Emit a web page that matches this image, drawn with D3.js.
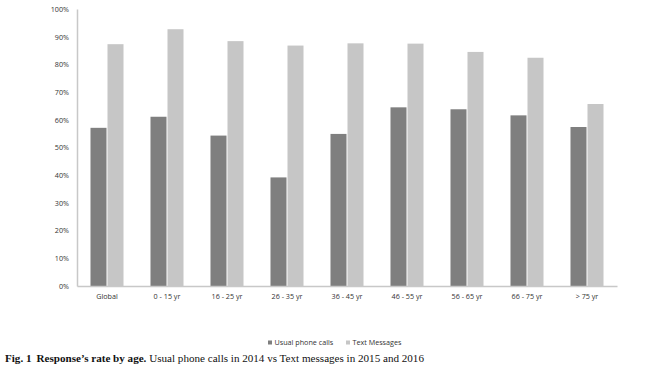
<!DOCTYPE html>
<html>
<head>
<meta charset="utf-8">
<script src="https://cdn.jsdelivr.net/npm/d3@7"></script>
<style>
  html, body { margin: 0; padding: 0; background: #fff; }
  svg { display: block; }
</style>
</head>
<body>
<svg id="chart" width="665" height="369"></svg>
<script>
const categories = ["Global", "0 - 15 yr", "16 - 25 yr", "26 - 35 yr", "36 - 45 yr", "46 - 55 yr", "56 - 65 yr", "66 - 75 yr", "> 75 yr"];
const phoneCalls = [57.1, 61.1, 54.3, 39.2, 54.9, 64.5, 63.8, 61.6, 57.4];
const textMessages = [87.3, 92.7, 88.4, 86.8, 87.6, 87.5, 84.5, 82.4, 65.7];
const seriesNames = ["Usual phone calls", "Text Messages"];
const seriesColors = ["#7f7f7f", "#c6c6c6"];
const yTicks = [0, 10, 20, 30, 40, 50, 60, 70, 80, 90, 100];

(function () {
const svg = d3.select("#chart");
const mLeft = 77, mRight = 617, mTop = 9, mBottom = 286;
const labelFont = "'Open Sans', 'Liberation Sans', sans-serif";
const fs = 7.2;

const x0 = d3.scaleBand().domain(categories).range([mLeft, mRight]).paddingInner(0).paddingOuter(0);
const x1 = d3.scaleBand().domain(seriesNames).range([0, 33]).padding(0);
const y = d3.scaleLinear().domain([0, 100]).range([mBottom, mTop]);

const data = categories.map((c, i) => ({cat: c, vals: [phoneCalls[i], textMessages[i]]}));

const groups = svg.append("g").selectAll("g").data(data).join("g")
  .attr("transform", d => `translate(${x0(d.cat) + (x0.bandwidth() - 33) / 2},0)`);
groups.selectAll("rect").data(d => d.vals.map((v, j) => ({v, j})))
  .join("rect")
  .attr("x", d => x1(seriesNames[d.j]) + (d.j === 1 ? 0.5 : 0))
  .attr("width", d => x1.bandwidth() - 0.5)
  .attr("y", d => y(d.v))
  .attr("height", d => y(0) - y(d.v))
  .attr("fill", d => seriesColors[d.j]);

// Y axis
const yAxis = d3.axisLeft(y).tickValues(yTicks).tickFormat(d => d + "%").tickSize(0).tickPadding(8);
const gy = svg.append("g").attr("transform", `translate(${mLeft},0)`).call(yAxis);
gy.select(".domain").attr("stroke", "#c8c8c8").attr("stroke-width", 1.5);
gy.selectAll("text").attr("font-family", labelFont).attr("font-size", fs).attr("fill", "#333");

// X axis
const xAxis = d3.axisBottom(x0).tickSize(0).tickPadding(8);
const gx = svg.append("g").attr("transform", `translate(0,${mBottom})`).call(xAxis);
gx.select(".domain").attr("stroke", "#c8c8c8").attr("stroke-width", 1.5);
gx.selectAll("text").attr("font-family", labelFont).attr("font-size", fs).attr("fill", "#333");

// Legend
const legend = svg.append("g").attr("font-family", labelFont).attr("font-size", fs).attr("fill", "#333");
const legX = [268, 346];
seriesNames.forEach((n, i) => {
  legend.append("rect").attr("x", legX[i]).attr("y", 340.5).attr("width", 4).attr("height", 4).attr("fill", seriesColors[i]);
  legend.append("text").attr("x", legX[i] + 6.5).attr("y", 345).text(n);
});

// Caption
const cap = svg.append("text").attr("x", 5).attr("y", 362)
  .attr("font-family", "'Liberation Serif', 'Times New Roman', serif").attr("font-size", 11.1).attr("fill", "#111");
cap.append("tspan").attr("font-weight", "bold").text("Fig. 1");
cap.append("tspan").attr("font-weight", "bold").attr("dx", 5).text("Response\u2019s rate by age.");
cap.append("tspan").text(" Usual phone calls in 2014 vs Text messages in 2015 and 2016");
})();
</script>
</body>
</html>
